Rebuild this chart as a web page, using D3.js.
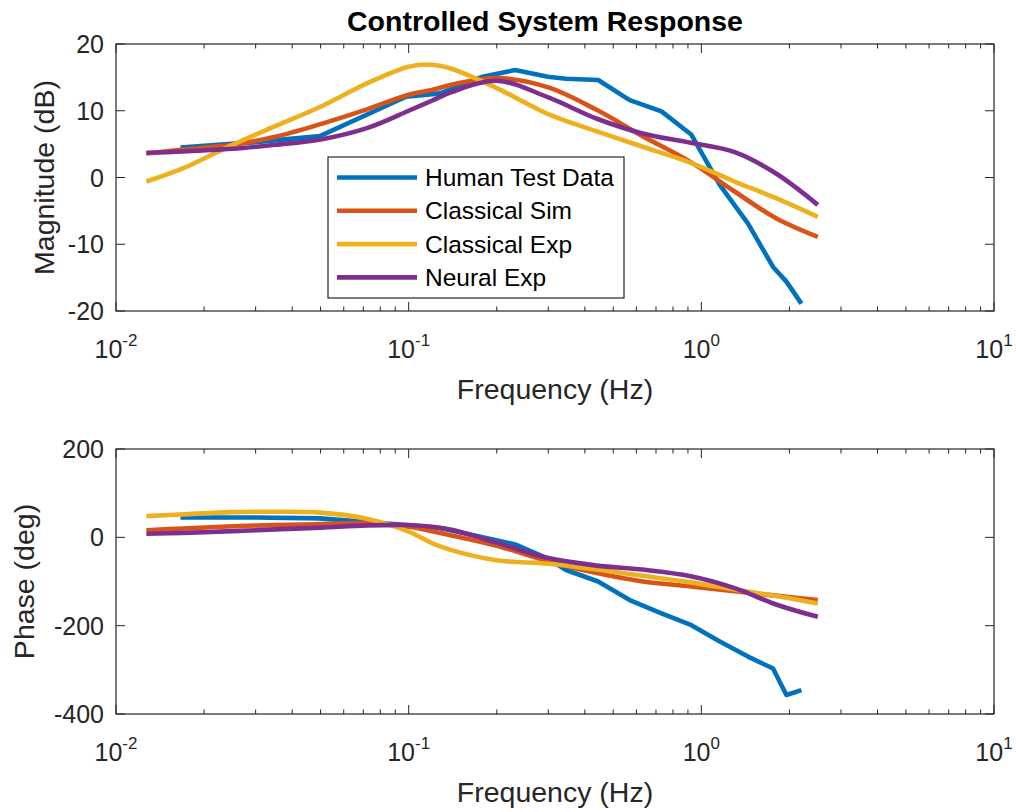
<!DOCTYPE html>
<html>
<head>
<meta charset="utf-8">
<script src="https://cdn.jsdelivr.net/npm/d3@7"></script>
<style>
  html, body { margin: 0; padding: 0; background: #fff; }
  svg { display: block; font-family: "Liberation Sans", Arial, Helvetica, sans-serif; }
</style>
</head>
<body>
<svg id="chart" width="1016" height="812"></svg>
<script>
// Series names and colours
const seriesNames = ["Human Test Data", "Classical Sim", "Classical Exp", "Neural Exp"];
const seriesColors = ["#0072BD", "#D95319", "#EDB120", "#7E2F8E"];

// Measured human response (Hz, dB, deg)
const humanFreq  = [0.0166, 0.03, 0.0497, 0.098, 0.128, 0.179, 0.231, 0.299, 0.345, 0.444, 0.569, 0.731, 0.925, 1.156, 1.444, 1.758, 1.953, 2.198];
const humanMag   = [4.5, 5.3, 6.2, 12.1, 12.6, 15.1, 16.1, 15.1, 14.8, 14.6, 11.6, 9.9, 6.4, -1.1, -6.9, -13.4, -15.6, -18.9];
const humanPhase = [45, 45, 43, 28, 21, 0, -16, -48, -74, -100, -142, -172, -199, -236, -270, -297, -357, -346];

// Model responses share one frequency grid (Hz)
const modelFreq = [0.0127, 0.017, 0.025, 0.035, 0.05, 0.072, 0.1, 0.12, 0.14, 0.2, 0.3, 0.44, 0.63, 0.92, 1.3, 1.8, 2.5];

const classicalSimMag   = [3.6, 4.2, 4.9, 6.1, 8.0, 10.2, 12.4, 13.1, 13.9, 14.9, 13.5, 10.1, 6.2, 2.3, -2.1, -6.1, -8.9];
const classicalExpMag   = [-0.6, 1.4, 4.9, 7.7, 10.6, 14.1, 16.6, 16.9, 16.3, 13.4, 9.5, 6.9, 4.6, 2.2, -0.6, -3.1, -5.9];
const neuralExpMag      = [3.7, 3.9, 4.3, 4.9, 5.7, 7.4, 10.0, 11.5, 12.8, 14.5, 12.0, 8.8, 6.6, 5.2, 3.8, 0.6, -4.1];

const classicalSimPhase = [16, 20, 25, 28, 30, 32, 24, 14, 4, -19, -54, -81, -100, -111, -122, -132, -142];
const classicalExpPhase = [48, 52, 57, 58, 56, 42, 13, -13, -29, -52, -60, -73, -87, -102, -118, -133, -150];
const neuralExpPhase    = [8, 10, 14, 18, 22, 27, 28, 24, 17, -12, -47, -64, -73, -88, -115, -152, -180];

// Axis ticks
const decadeTicks = [0.01, 0.1, 1, 10];
const decadeExponents = ["-2", "-1", "0", "1"];
const magTicks = [-20, -10, 0, 10, 20];
const phaseTicks = [-400, -200, 0, 200];

const svg = d3.select("#chart");
const axisColor = "#262626";
const left = 116, right = 994;

const x = d3.scaleLog().domain([0.01, 10]).range([left, right]);
const minorTicks = [];
[0.01, 0.1, 1].forEach(d => { for (let k = 2; k <= 9; k++) minorTicks.push(d * k); });

function zip(fx, fy) { return fx.map((f, i) => [f, fy[i]]); }

function drawPanel(cfg) {
  const y = d3.scaleLinear().domain(cfg.domain).range([cfg.bottom, cfg.top]);
  const g = svg.append("g");

  // curves: human data as a polyline, models smooth
  const straight = d3.line().x(d => x(d[0])).y(d => y(d[1]));
  const smooth = d3.line().x(d => x(d[0])).y(d => y(d[1])).curve(d3.curveCatmullRom.alpha(0.5));
  cfg.series.forEach((s, i) => {
    g.append("path")
      .attr("d", (i === 0 ? straight : smooth)(s))
      .attr("fill", "none")
      .attr("stroke", seriesColors[i])
      .attr("stroke-width", 4.6)
      .attr("stroke-linejoin", "round");
  });

  // box
  g.append("rect")
    .attr("x", left).attr("y", cfg.top)
    .attr("width", right - left).attr("height", cfg.bottom - cfg.top)
    .attr("fill", "none").attr("stroke", axisColor).attr("stroke-width", 1.2);

  // x ticks (inward, mirrored on top)
  const tk = g.append("g").attr("stroke", axisColor).attr("stroke-width", 1);
  decadeTicks.forEach(t => {
    tk.append("line").attr("x1", x(t)).attr("x2", x(t)).attr("y1", cfg.bottom).attr("y2", cfg.bottom - 9);
    tk.append("line").attr("x1", x(t)).attr("x2", x(t)).attr("y1", cfg.top).attr("y2", cfg.top + 9);
  });
  minorTicks.forEach(t => {
    tk.append("line").attr("x1", x(t)).attr("x2", x(t)).attr("y1", cfg.bottom).attr("y2", cfg.bottom - 4.5);
    tk.append("line").attr("x1", x(t)).attr("x2", x(t)).attr("y1", cfg.top).attr("y2", cfg.top + 4.5);
  });
  // y ticks (inward, mirrored on right)
  cfg.ticks.forEach(t => {
    tk.append("line").attr("x1", left).attr("x2", left + 9).attr("y1", y(t)).attr("y2", y(t));
    tk.append("line").attr("x1", right).attr("x2", right - 9).attr("y1", y(t)).attr("y2", y(t));
  });

  // y tick labels
  cfg.ticks.forEach(t => {
    g.append("text")
      .attr("x", left - 12).attr("y", y(t) + 9)
      .attr("text-anchor", "end")
      .attr("font-size", 25).attr("fill", axisColor)
      .text(t);
  });

  // x tick labels: 10 with superscript exponent
  decadeTicks.forEach((t, i) => {
    const tx = g.append("text")
      .attr("x", x(t)).attr("y", cfg.bottom + 47)
      .attr("text-anchor", "middle")
      .attr("font-size", 25).attr("fill", axisColor);
    tx.append("tspan").text("10");
    tx.append("tspan").attr("dy", -12).attr("font-size", 17).text(decadeExponents[i]);
  });

  // axis labels
  g.append("text")
    .attr("x", (left + right) / 2).attr("y", cfg.bottom + 88)
    .attr("text-anchor", "middle")
    .attr("font-size", 28.5).attr("fill", axisColor)
    .text("Frequency (Hz)");
  g.append("text")
    .attr("transform", `translate(${cfg.ylabelX},${(cfg.top + cfg.bottom) / 2}) rotate(-90)`)
    .attr("text-anchor", "middle")
    .attr("font-size", 28.5).attr("fill", axisColor)
    .text(cfg.ylabel);

  return y;
}

drawPanel({
  top: 44, bottom: 311, domain: [-20, 20], ticks: magTicks,
  ylabel: "Magnitude (dB)", ylabelX: 54,
  series: [zip(humanFreq, humanMag), zip(modelFreq, classicalSimMag),
           zip(modelFreq, classicalExpMag), zip(modelFreq, neuralExpMag)]
});

drawPanel({
  top: 449, bottom: 714, domain: [-400, 200], ticks: phaseTicks,
  ylabel: "Phase (deg)", ylabelX: 34,
  series: [zip(humanFreq, humanPhase), zip(modelFreq, classicalSimPhase),
           zip(modelFreq, classicalExpPhase), zip(modelFreq, neuralExpPhase)]
});

// title
svg.append("text")
  .attr("x", (left + right) / 2 - 10).attr("y", 31)
  .attr("text-anchor", "middle")
  .attr("font-size", 28.5).attr("font-weight", "bold").attr("fill", "#000")
  .text("Controlled System Response");

// legend
const legend = svg.append("g").attr("transform", "translate(328,157)");
legend.append("rect")
  .attr("width", 296).attr("height", 141)
  .attr("fill", "#fff").attr("stroke", axisColor).attr("stroke-width", 1.2);
seriesNames.forEach((name, i) => {
  const ry = 20.5 + i * 33.3;
  legend.append("line")
    .attr("x1", 9).attr("x2", 89).attr("y1", ry).attr("y2", ry)
    .attr("stroke", seriesColors[i]).attr("stroke-width", 4.6);
  legend.append("text")
    .attr("x", 97).attr("y", ry + 8.5)
    .attr("font-size", 24.5).attr("fill", "#000")
    .text(name);
});
</script>
</body>
</html>
